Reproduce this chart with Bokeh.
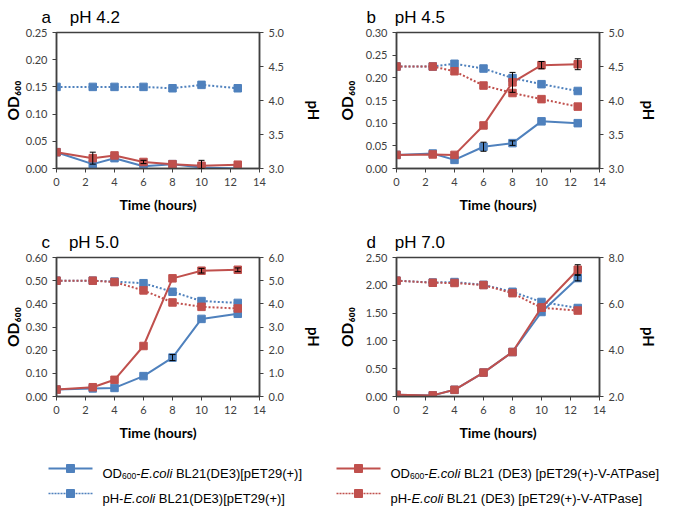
import math
from bokeh.plotting import figure
from bokeh.models import (Range1d, LinearAxis, FixedTicker, NumeralTickFormatter,
                          Label, Whisker, TeeHead, ColumnDataSource)
from bokeh.layouts import column, row
from bokeh.embed import file_html
from bokeh.resources import INLINE

# ---------------- data ----------------
time_h = [0, 2.5, 4, 6, 8, 10, 12.5]
x_ticks = [0, 2, 4, 6, 8, 10, 12, 14]

# panel a : pH 4.2
a_od_ctrl = [0.030, 0.008, 0.019, 0.004, 0.008, 0.002, 0.000]
a_od_atp = [0.030, 0.019, 0.024, 0.012, 0.008, 0.005, 0.007]
a_ph_ctrl = [4.20, 4.20, 4.20, 4.20, 4.18, 4.23, 4.18]
a_ph_atp = None
a_err_ctrl = [0, 0, 0, 0, 0, 0, 0]
a_err_atp = [0, 0.011, 0, 0.003, 0, 0.010, 0]
a_od_ticks = [0.00, 0.05, 0.10, 0.15, 0.20, 0.25]
a_ph_ticks = [3.0, 3.5, 4.0, 4.5, 5.0]

# panel b : pH 4.5
b_od_ctrl = [0.030, 0.033, 0.019, 0.048, 0.056, 0.104, 0.100]
b_od_atp = [0.030, 0.031, 0.030, 0.095, 0.190, 0.228, 0.230]
b_ph_ctrl = [4.50, 4.50, 4.54, 4.47, 4.33, 4.24, 4.14]
b_ph_atp = [4.50, 4.50, 4.43, 4.22, 4.11, 4.02, 3.91]
b_err_ctrl = [0, 0, 0, 0.010, 0.005, 0, 0]
b_err_atp = [0, 0, 0, 0, 0.022, 0.008, 0.012]
b_od_ticks = [0.00, 0.05, 0.10, 0.15, 0.20, 0.25, 0.30]
b_ph_ticks = [3.0, 3.5, 4.0, 4.5, 5.0]

# panel c : pH 5.0
c_od_ctrl = [0.030, 0.035, 0.037, 0.088, 0.168, 0.335, 0.357]
c_od_atp = [0.030, 0.040, 0.072, 0.218, 0.510, 0.543, 0.547]
c_ph_ctrl = [5.00, 5.00, 4.96, 4.89, 4.52, 4.12, 4.04]
c_ph_atp = [5.00, 5.00, 4.94, 4.58, 4.06, 3.87, 3.80]
c_err_ctrl = [0, 0, 0, 0, 0.013, 0, 0]
c_err_atp = [0, 0, 0, 0, 0, 0.010, 0.008]
c_od_ticks = [0.0, 0.1, 0.2, 0.3, 0.4, 0.5, 0.6]
c_ph_ticks = [0.0, 1.0, 2.0, 3.0, 4.0, 5.0, 6.0]

# panel d : pH 7.0
d_od_ctrl = [0.03, 0.02, 0.12, 0.43, 0.80, 1.52, 2.13]
d_od_atp = [0.03, 0.02, 0.12, 0.43, 0.80, 1.60, 2.28]
d_ph_ctrl = [7.00, 6.92, 6.94, 6.82, 6.52, 6.08, 5.82]
d_ph_atp = [7.00, 6.91, 6.90, 6.81, 6.46, 5.83, 5.71]
d_err_ctrl = [0, 0, 0, 0, 0, 0, 0.05]
d_err_atp = [0, 0, 0, 0, 0, 0, 0.09]
d_od_ticks = [0.0, 0.5, 1.0, 1.5, 2.0, 2.5]
d_ph_ticks = [2.0, 4.0, 6.0, 8.0]

panel_letters = ["a", "b", "c", "d"]
panel_titles = ["pH 4.2", "pH 4.5", "pH 5.0", "pH 7.0"]
x_label = "Time (hours)"
y_label = "OD\u2086\u2080\u2080"
y2_label = "pH"
legend_strain_ctrl = "\u00a0BL21(DE3)[pET29(+)]"
legend_strain_atp = "\u00a0BL21 (DE3) [pET29(+)-V-ATPase]"

# ---------------- style ----------------
BLUE = "#4F81BD"
RED = "#C0504D"
FRAME = "#404040"
TICK_TXT = "#404040"
TICK_FONT = "Lato"
LAB_FONT = "Lato"
TITLE_FONT = "Liberation Sans"
NB = "\u00a0"

panels = [
    dict(letter=panel_letters[0], title=panel_titles[0], odc=a_od_ctrl, oda=a_od_atp,
         phc=a_ph_ctrl, pha=a_ph_atp, ec=a_err_ctrl, ea=a_err_atp,
         odt=a_od_ticks, pht=a_ph_ticks,
         g=dict(w=334, h=218, bl=52, br=70, bt=32, bb=50, col=0)),
    dict(letter=panel_letters[1], title=panel_titles[1], odc=b_od_ctrl, oda=b_od_atp,
         phc=b_ph_ctrl, pha=b_ph_atp, ec=b_err_ctrl, ea=b_err_atp,
         odt=b_od_ticks, pht=b_ph_ticks,
         g=dict(w=335, h=218, bl=58, br=65, bt=30, bb=50, col=1)),
    dict(letter=panel_letters[2], title=panel_titles[2], odc=c_od_ctrl, oda=c_od_atp,
         phc=c_ph_ctrl, pha=c_ph_atp, ec=c_err_ctrl, ea=c_err_atp,
         odt=c_od_ticks, pht=c_ph_ticks,
         g=dict(w=334, h=228, bl=52, br=70, bt=37, bb=50, col=0)),
    dict(letter=panel_letters[3], title=panel_titles[3], odc=d_od_ctrl, oda=d_od_atp,
         phc=d_ph_ctrl, pha=d_ph_atp, ec=d_err_ctrl, ea=d_err_atp,
         odt=d_od_ticks, pht=d_ph_ticks,
         g=dict(w=335, h=228, bl=58, br=65, bt=39, bb=50, col=1)),
]


def style_axis(ax, fmt, ticks):
    ax.ticker = FixedTicker(ticks=ticks)
    ax.formatter = NumeralTickFormatter(format=fmt)
    ax.axis_line_color = FRAME
    ax.axis_line_width = 1.5
    ax.major_tick_line_color = FRAME
    ax.major_tick_in = 0
    ax.major_tick_out = 4
    ax.minor_tick_line_color = None
    ax.major_label_text_font = TICK_FONT
    ax.major_label_text_font_size = "11px"
    ax.major_label_text_color = TICK_TXT
    ax.major_label_standoff = 5
    ax.axis_label_text_font = LAB_FONT
    ax.axis_label_text_font_style = "bold"
    ax.axis_label_text_color = "black"


def make_panel(sp):
    g = sp["g"]
    left = g["col"] == 0
    xr = (x_ticks[0], x_ticks[-1])
    yr = (sp["odt"][0], sp["odt"][-1])
    pr = (sp["pht"][0], sp["pht"][-1])
    p = figure(width=g["w"], height=g["h"], output_backend="svg", toolbar_location=None,
               x_range=Range1d(*xr), y_range=Range1d(*yr))
    p.min_border = 0
    p.min_border_left = g["bl"]
    p.min_border_right = g["br"]
    p.min_border_top = g["bt"]
    p.min_border_bottom = g["bb"]
    p.background_fill_color = "white"
    p.border_fill_color = "white"
    p.outline_line_color = FRAME
    p.outline_line_width = 1.5
    p.xgrid.visible = False
    p.ygrid.visible = False
    p.extra_y_ranges = {"ph": Range1d(*pr)}

    # title
    p.title.text = sp["letter"] + NB * 4 + sp["title"]
    p.title.text_font = TITLE_FONT
    p.title.text_font_size = "17px"
    p.title.text_font_style = "normal"
    p.title.text_color = "black"
    p.title.align = "left"
    p.title.offset = -15 if left else -30
    p.title.standoff = 11

    style_axis(p.xaxis[0], "0", x_ticks)
    p.xaxis.axis_label = x_label
    p.xaxis.axis_label_text_font_size = "14px"
    p.xaxis.axis_label_standoff = 7

    style_axis(p.yaxis[0], "0.00", sp["odt"])
    p.yaxis.axis_label = y_label
    p.yaxis.axis_label_text_font_size = "15.5px"
    p.yaxis.axis_label_standoff = 1 if left else 7

    rax = LinearAxis(y_range_name="ph")
    style_axis(rax, "0.0", sp["pht"])
    rax.axis_label = y2_label
    rax.axis_label_text_font_size = "15px"
    rax.axis_label_standoff = 27 if left else 22
    rax.axis_label_orientation = -math.pi / 2
    p.add_layout(rax, "right")

    # series
    def series(y, color, dashed, rng):
        kw = dict(y_range_name="ph") if rng == "ph" else {}
        p.line(time_h, y, line_color=color, line_width=2,
               line_dash="2 2" if dashed else "solid", **kw)
        p.scatter(time_h, y, marker="square", size=7.5, fill_color=color,
                  line_color=color, **kw)

    series(sp["odc"], BLUE, False, "od")
    series(sp["phc"], BLUE, True, "ph")
    series(sp["oda"], RED, False, "od")
    if sp["pha"] is not None:
        series(sp["pha"], RED, True, "ph")

    # error bars
    for vals, errs in ((sp["odc"], sp["ec"]), (sp["oda"], sp["ea"])):
        t = [tt for tt, e in zip(time_h, errs) if e > 0]
        up = [v + e for v, e in zip(vals, errs) if e > 0]
        lo = [max(0.0, v - e) for v, e in zip(vals, errs) if e > 0]
        if t:
            src = ColumnDataSource(dict(t=t, up=up, lo=lo))
            p.add_layout(Whisker(base="t", upper="up", lower="lo", source=src,
                                 dimension="height", line_color="black", line_width=1,
                                 upper_head=TeeHead(size=6, line_color="black", line_width=1),
                                 lower_head=TeeHead(size=6, line_color="black", line_width=1),
                                 level="overlay"))
    return p


figs = [make_panel(sp) for sp in panels]

# ---------------- legend ----------------
LW, LH = 669, 60
leg = figure(width=LW, height=LH, output_backend="svg", toolbar_location=None,
             x_range=Range1d(0, LW), y_range=Range1d(LH, 0))
leg.min_border = 0
leg.outline_line_color = None
leg.axis.visible = False
leg.xgrid.visible = False
leg.ygrid.visible = False

AR = {' ': 278, '\u00a0': 278, '(': 333, ')': 333, '+': 584, '-': 333, '.': 278,
      'A': 667, 'B': 667, 'D': 722, 'E': 667, 'H': 722, 'L': 556, 'O': 778, 'P': 667,
      'T': 611, 'V': 667, '[': 278, ']': 278, 'a': 556, 'c': 500, 'e': 556, 'i': 222,
      'l': 222, 'o': 556, 'p': 556, 's': 500}


def tw(s, size):
    return sum(AR.get(ch, 556) for ch in s) * size / 1000.0


FS = 13
rows_y = [22, 47]
cols = [dict(x0=48, color=BLUE, strain=legend_strain_ctrl),
        dict(x0=336, color=RED, strain=legend_strain_atp)]
for c in cols:
    for ri, ry in enumerate(rows_y):
        dashed = ri == 1
        leg.line([c["x0"], c["x0"] + 44], [ry, ry], line_color=c["color"],
                 line_width=2 if not dashed else 1.5,
                 line_dash="2 1" if dashed else "solid")
        leg.scatter([c["x0"] + 22], [ry], marker="square", size=8,
                    fill_color=c["color"], line_color=c["color"])
        if ri == 0:
            pieces = [("OD", FS, "normal", 0), ("600", 8.5, "normal", 3),
                      ("-", FS, "normal", 0), ("E.coli", FS, "italic", 0),
                      (c["strain"], FS, "normal", 0)]
        else:
            pieces = [("pH-", FS, "normal", 0), ("E.coli", FS, "italic", 0),
                      (c["strain"], FS, "normal", 0)]
        x = c["x0"] + 54
        for txt, sz, stl, dy in pieces:
            leg.add_layout(Label(x=x, y=ry + 4.5 + dy, text=txt, text_font=TITLE_FONT,
                                 text_font_size=f"{sz}px", text_font_style=stl,
                                 text_color="black", text_align="left",
                                 text_baseline="alphabetic"))
            x += tw(txt, sz)

layout = column(row(figs[0], figs[1]), row(figs[2], figs[3]), leg)
open("out.html", "w").write(file_html(layout, INLINE))
